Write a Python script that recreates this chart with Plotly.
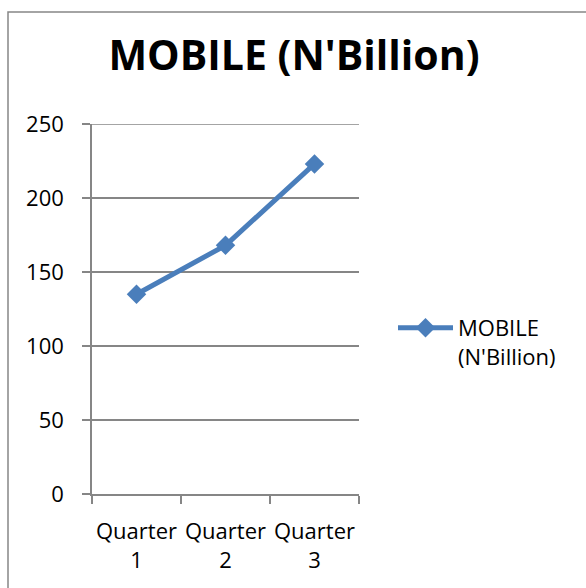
import plotly.graph_objects as go

categories = ["Quarter<br>1", "Quarter<br>2", "Quarter<br>3"]
mobile_values = [135, 168, 223]
series_name = "MOBILE<br>(N'Billion)"
title_text = "MOBILE (N'Billion)"
y_ticks = [0, 50, 100, 150, 200, 250]

GRAY = "#868686"
BLUE = "#4A7EBB"
FONT = "Open Sans"

fig = go.Figure()
fig.add_trace(go.Scatter(
    x=categories, y=mobile_values, mode="lines+markers", name=series_name,
    line=dict(color=BLUE, width=5),
    marker=dict(symbol="diamond", size=15, color=BLUE),
))

L, R, T, B = 92, 586 - 359, 124, 588 - 494
W, H = 586 - L - R, 588 - T - B

def px_x(p):
    return (p - L) / W

def px_y(p):
    return (588 - B - p) / H

fig.update_layout(
    width=586, height=588,
    margin=dict(l=L, r=R, t=T, b=B, pad=0, autoexpand=False),
    paper_bgcolor="white", plot_bgcolor="white",
    font=dict(family=FONT, size=22, color="black"),
    title=dict(text="<b>" + title_text + "</b>", x=px_x(294), xref="paper", xanchor="center",
               y=1 - 56 / 588, yanchor="middle", yref="container",
               font=dict(family=FONT, size=41, color="black")),
    showlegend=True,
    legend=dict(x=px_x(393), xanchor="left", y=px_y(307), yanchor="top", valign="top",
                font=dict(family=FONT, size=22), bgcolor="rgba(0,0,0,0)",
                itemwidth=55, tracegroupgap=0),
    xaxis=dict(type="category", range=[-0.5, 2.5], showgrid=False, showline=True,
               linecolor=GRAY, linewidth=1.5, tickangle=0, automargin=False,
               ticks="outside", tickson="boundaries", ticklen=8, tickcolor=GRAY, tickwidth=1.5,
               ticklabelstandoff=17, zeroline=False,
               tickfont=dict(family=FONT, size=22)),
    yaxis=dict(range=[0, 250], tickvals=y_ticks, showgrid=True, gridcolor=GRAY, gridwidth=1.5,
               showline=True, linecolor=GRAY, linewidth=1.5, zeroline=False, automargin=False,
               ticks="outside", ticklen=8, tickcolor=GRAY, tickwidth=1.5,
               ticklabelstandoff=14, tickfont=dict(family=FONT, size=22)),
)

# top gridline (at the axis end, which Plotly omits)
fig.add_shape(type="line", xref="paper", yref="y", x0=0, x1=1, y0=y_ticks[-1], y1=y_ticks[-1],
              line=dict(color=GRAY, width=1.5), layer="below")

# chart-area border (Excel-style frame)
fig.add_shape(type="rect", xref="paper", yref="paper",
              x0=px_x(8), x1=px_x(600), y0=px_y(600), y1=px_y(12),
              line=dict(color=GRAY, width=1.5), fillcolor="rgba(0,0,0,0)", layer="below")

fig.write_html("out.html")
